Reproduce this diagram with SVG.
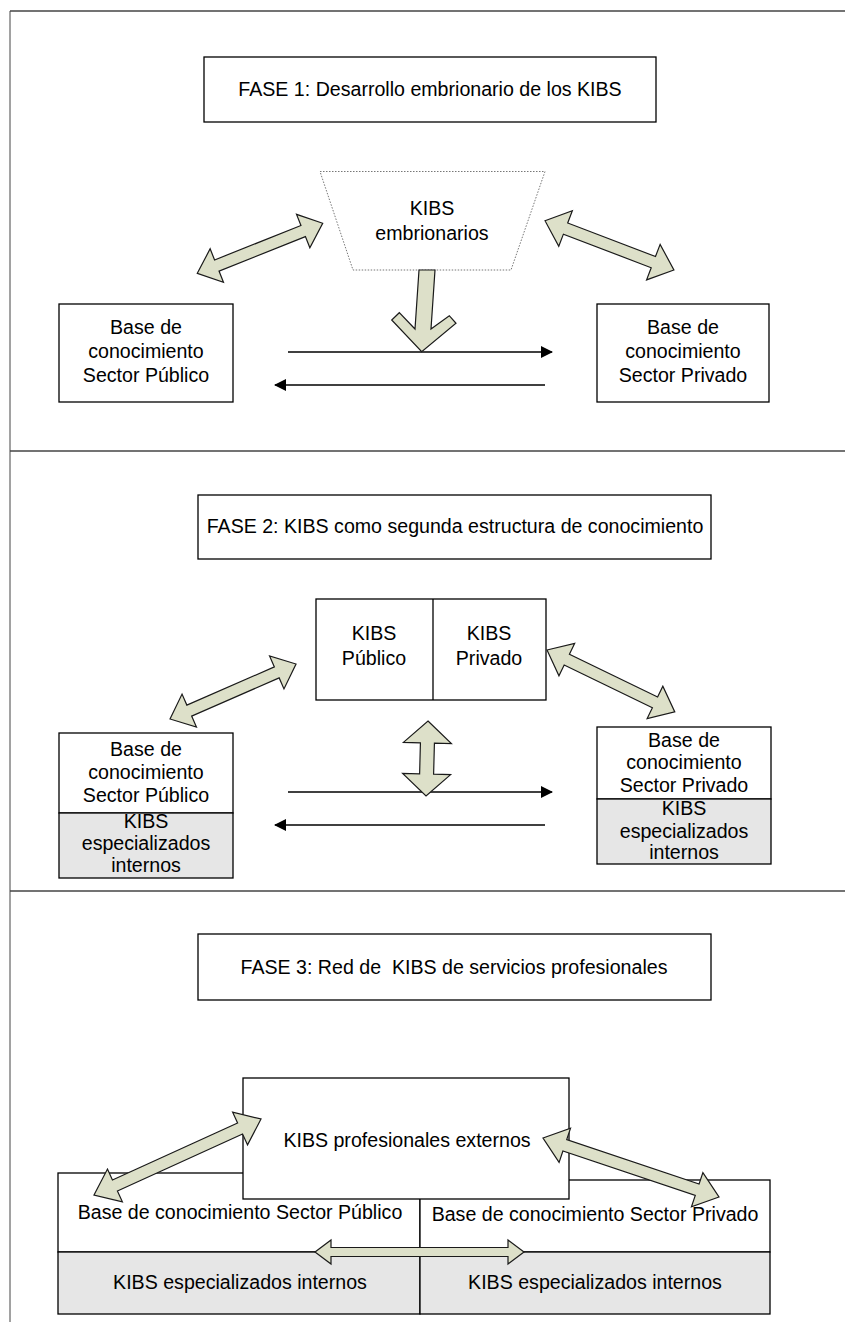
<svg xmlns="http://www.w3.org/2000/svg" width="845" height="1322" viewBox="0 0 845 1322">
  <style>
    text { font-family: "Liberation Sans", Arial, sans-serif; font-size: 19.6px; fill: #000; text-anchor: middle; }
    .box { fill: #fff; stroke: #000; stroke-width: 1.3; }
    .grey { fill: #e6e6e6; stroke: #000; stroke-width: 1.3; }
    .frame { stroke: #444; stroke-width: 1.6; fill: none; }
    .block { fill: #dde0c9; stroke: #1a1a1a; stroke-width: 1.2; stroke-linejoin: miter; }
    .flow { stroke: #000; stroke-width: 1.3; fill: none; }
  </style>
  <defs>
    <marker id="tri" viewBox="0 0 12 12" refX="11" refY="6" markerWidth="12" markerHeight="12" markerUnits="userSpaceOnUse" orient="auto">
      <path d="M0,0 L12,6 L0,12 Z" fill="#000"/>
    </marker>
  </defs>

  <rect width="845" height="1322" fill="#fff"/>

  <!-- page frame and phase separators -->
  <g id="frame">
    <line class="frame" x1="10" y1="11" x2="845" y2="11"/>
    <line x1="10" y1="11" x2="10" y2="1322" stroke="#444" stroke-width="1"/>
    <line class="frame" x1="10" y1="451" x2="845" y2="451"/>
    <line class="frame" x1="10" y1="891" x2="845" y2="891"/>
  </g>

  <!-- ===== Phase 1 ===== -->
  <g id="fase1-title">
    <rect class="box" x="204" y="57" width="452" height="65"/>
    <text x="430" y="96">FASE 1: Desarrollo embrionario de los KIBS</text>
  </g>
  <g id="kibs-embrionarios">
    <polygon points="320,171.5 545,171.5 511,270 353,270" fill="#fff" stroke="#777" stroke-width="1" stroke-dasharray="1.5,1.5"/>
    <text x="432" y="215">KIBS</text>
    <text x="432" y="240">embrionarios</text>
  </g>
  <g id="f1-publico">
    <rect class="box" x="59" y="304" width="174" height="98"/>
    <text x="146" y="334">Base de</text>
    <text x="146" y="358">conocimiento</text>
    <text x="146" y="382">Sector Público</text>
  </g>
  <g id="f1-privado">
    <rect class="box" x="597" y="304" width="172" height="98"/>
    <text x="683" y="334">Base de</text>
    <text x="683" y="358">conocimiento</text>
    <text x="683" y="382">Sector Privado</text>
  </g>

  <!-- ===== Phase 2 ===== -->
  <g id="fase2-title">
    <rect class="box" x="198" y="495" width="513" height="64"/>
    <text x="455" y="533">FASE 2: KIBS como segunda estructura de conocimiento</text>
  </g>
  <g id="kibs-publico-privado">
    <rect class="box" x="316" y="599" width="230" height="101"/>
    <line x1="433" y1="599" x2="433" y2="700" stroke="#000" stroke-width="1.3"/>
    <text x="374" y="640">KIBS</text>
    <text x="374" y="665">Público</text>
    <text x="489" y="640">KIBS</text>
    <text x="489" y="665">Privado</text>
  </g>
  <g id="f2-publico">
    <rect class="box" x="59" y="733" width="174" height="80"/>
    <rect class="grey" x="59" y="813" width="174" height="65"/>
    <text x="146" y="756">Base de</text>
    <text x="146" y="779">conocimiento</text>
    <text x="146" y="802">Sector Público</text>
    <text x="146" y="828">KIBS</text>
    <text x="146" y="850">especializados</text>
    <text x="146" y="872">internos</text>
  </g>
  <g id="f2-privado">
    <rect class="box" x="597" y="727" width="174" height="72"/>
    <rect class="grey" x="597" y="799" width="174" height="65"/>
    <text x="684" y="747">Base de</text>
    <text x="684" y="769">conocimiento</text>
    <text x="684" y="792">Sector Privado</text>
    <text x="684" y="815">KIBS</text>
    <text x="684" y="838">especializados</text>
    <text x="684" y="859">internos</text>
  </g>

  <!-- ===== Phase 3 ===== -->
  <g id="fase3-title">
    <rect class="box" x="198" y="934" width="513" height="66"/>
    <text x="454" y="974" xml:space="preserve">FASE 3: Red de  KIBS de servicios profesionales</text>
  </g>
  <g id="f3-publico">
    <rect class="box" x="58" y="1173" width="362" height="79"/>
    <rect class="grey" x="58" y="1252" width="362" height="62"/>
    <text x="240" y="1219">Base de conocimiento Sector Público</text>
    <text x="240" y="1289">KIBS especializados internos</text>
  </g>
  <g id="f3-privado">
    <rect class="box" x="420" y="1180" width="350" height="72"/>
    <rect class="grey" x="420" y="1252" width="350" height="62"/>
    <text x="595" y="1221">Base de conocimiento Sector Privado</text>
    <text x="595" y="1289">KIBS especializados internos</text>
  </g>
  <g id="kibs-externos">
    <rect class="box" x="243" y="1078" width="326" height="121"/>
    <text x="407" y="1147">KIBS profesionales externos</text>
  </g>

  <!-- ===== connectors ===== -->
  <g id="connectors">
    <!-- phase 1 -->
    <line class="flow" x1="288" y1="352" x2="552" y2="352" marker-end="url(#tri)"/>
    <line class="flow" x1="545" y1="385" x2="275" y2="385" marker-end="url(#tri)"/>
    <polygon class="block" points="419,270 435,270 431,329 449.3,315.7 456,323.3 421.7,351.7 391.7,320 399.3,312.7 415,329"/>
    <g transform="translate(197.3,273.3) rotate(-21.74)">
      <polygon class="block" points="0,0 21,-18 21,-6 114,-6 114,-18 135,0 114,18 114,6 21,6 21,18"/>
    </g>
    <g transform="translate(545,220.7) rotate(20.92)">
      <polygon class="block" points="0,0 22,-19 22,-6 116,-6 116,-19 138,0 116,19 116,6 22,6 22,19"/>
    </g>

    <!-- phase 2 -->
    <line class="flow" x1="288" y1="792" x2="552" y2="792" marker-end="url(#tri)"/>
    <line class="flow" x1="545" y1="825" x2="275" y2="825" marker-end="url(#tri)"/>
    <g transform="translate(170,719) rotate(-23.58)">
      <polygon class="block" points="0,0 21,-18 21,-6 116.5,-6 116.5,-18 137.5,0 116.5,18 116.5,6 21,6 21,18"/>
    </g>
    <g transform="translate(547,650) rotate(25.85)">
      <polygon class="block" points="0,0 22,-18 22,-6 120,-6 120,-18 142,0 120,18 120,6 22,6 22,18"/>
    </g>
    <g transform="translate(428,721) rotate(91.5)">
      <polygon class="block" points="0,0 22,-24 22,-7 53,-7 53,-24 75,0 53,24 53,7 22,7 22,24"/>
    </g>

    <!-- phase 3 -->
    <g transform="translate(94,1195) rotate(-24.47)">
      <polygon class="block" points="0,0 23,-18 23,-6 160.5,-6 160.5,-18 183.5,0 160.5,18 160.5,6 23,6 23,18"/>
    </g>
    <g transform="translate(543,1138) rotate(18.53)">
      <polygon class="block" points="0,0 23,-18 23,-6 162.6,-6 162.6,-18 185.6,0 162.6,18 162.6,6 23,6 23,18"/>
    </g>
    <g transform="translate(315,1252)">
      <polygon class="block" points="0,0 16,-12 16,-4.5 193,-4.5 193,-12 209,0 193,12 193,4.5 16,4.5 16,12"/>
    </g>
  </g>
</svg>
